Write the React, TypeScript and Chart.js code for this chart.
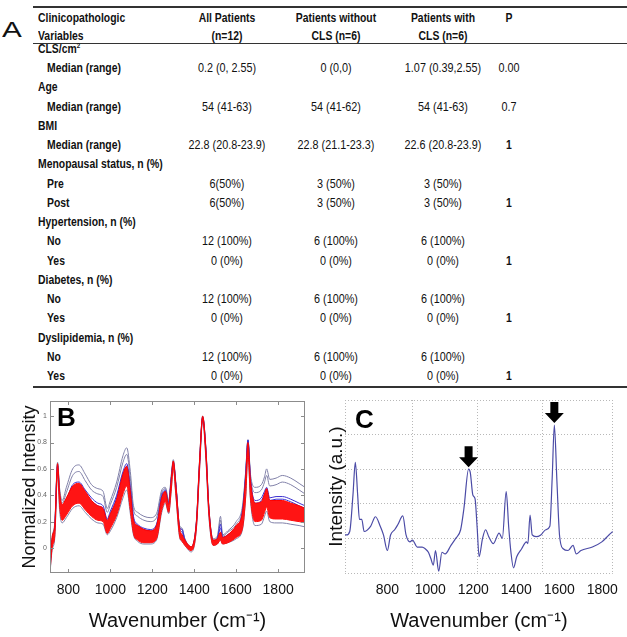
import React, { useEffect, useRef } from "react";
import { Chart, registerables } from "chart.js";

Chart.register(...registerables);

const FONT = "'Liberation Sans', Arial, Helvetica, sans-serif";

// ---------------- Table (panel A) ----------------
const headerLine1 = ["Clinicopathologic", "All Patients", "Patients without", "Patients with", "P"];
const headerLine2 = ["Variables", "(n=12)", "CLS (n=6)", "CLS (n=6)", ""];

const rowLabels = [
  "CLS/cm", "Median (range)", "Age", "Median (range)", "BMI", "Median (range)",
  "Menopausal status, n (%)", "Pre", "Post", "Hypertension, n (%)", "No", "Yes",
  "Diabetes, n (%)", "No", "Yes", "Dyslipidemia, n (%)", "No", "Yes",
];
const rowIndented = [0, 1, 0, 1, 0, 1, 0, 1, 1, 0, 1, 1, 0, 1, 1, 0, 1, 1];
const colAllPatients = [
  "", "0.2 (0, 2.55)", "", "54 (41-63)", "", "22.8 (20.8-23.9)", "", "6(50%)", "6(50%)",
  "", "12 (100%)", "0 (0%)", "", "12 (100%)", "0 (0%)", "", "12 (100%)", "0 (0%)",
];
const colWithoutCLS = [
  "", "0 (0,0)", "", "54 (41-62)", "", "22.8 (21.1-23.3)", "", "3 (50%)", "3 (50%)",
  "", "6 (100%)", "0 (0%)", "", "6 (100%)", "0 (0%)", "", "6 (100%)", "0 (0%)",
];
const colWithCLS = [
  "", "1.07 (0.39,2.55)", "", "54 (41-63)", "", "22.6 (20.8-23.9)", "", "3 (50%)", "3 (50%)",
  "", "6 (100%)", "0 (0%)", "", "6 (100%)", "0 (0%)", "", "6 (100%)", "0 (0%)",
];
const colP = ["", "0.00", "", "0.7", "", "1", "", "", "1", "", "", "1", "", "", "1", "", "", "1"];

// ---------------- Panel B: normalized spectra ----------------
const wnB = [
  712, 722, 735, 748, 758, 770, 790, 820, 850, 880, 910, 940, 965, 985, 1000, 1030, 1060, 1078, 1095,
  1110, 1130, 1160, 1190, 1220, 1245, 1262, 1278, 1290, 1300, 1312, 1330, 1342, 1355, 1385, 1410, 1425,
  1440, 1455, 1470, 1490, 1510, 1525, 1535, 1560, 1600, 1630, 1645, 1656, 1668, 1690, 1720, 1735, 1745,
  1760, 1790, 1820, 1860, 1900, 1928,
];
const redLowB = [
  -0.18, 0.0, 0.1, 0.58, 0.32, 0.21, 0.25, 0.32, 0.34, 0.29, 0.24, 0.21, 0.2, 0.11, 0.15, 0.25, 0.41, 0.47, 0.29,
  0.11, 0.06, 0.04, 0.04, 0.07, 0.29, 0.35, 0.27, 0.44, 0.61, 0.41, 0.09, 0.05, 0.02, -0.02, 0.15, 0.6,
  0.98, 0.7, 0.25, 0.02, 0.03, 0.06, 0.03, 0.04, 0.08, 0.15, 0.39, 0.71, 0.38, 0.2, 0.21, 0.27, 0.31,
  0.23, 0.22, 0.22, 0.21, 0.2, 0.19,
];
const redHighB = [
  -0.12, 0.08, 0.18, 0.64, 0.42, 0.33, 0.38, 0.47, 0.49, 0.43, 0.36, 0.32, 0.3, 0.21, 0.26, 0.37, 0.56, 0.62, 0.43,
  0.21, 0.17, 0.14, 0.13, 0.17, 0.38, 0.43, 0.33, 0.52, 0.66, 0.48, 0.15, 0.1, 0.06, 0.01, 0.2, 0.66,
  1.0, 0.76, 0.3, 0.06, 0.07, 0.12, 0.08, 0.1, 0.17, 0.27, 0.53, 0.8, 0.51, 0.34, 0.35, 0.41, 0.45,
  0.36, 0.36, 0.36, 0.34, 0.32, 0.3,
];
const blueLowB = [
  -0.13, 0.06, 0.17, 0.63, 0.4, 0.31, 0.37, 0.46, 0.48, 0.42, 0.36, 0.32, 0.3, 0.21, 0.26, 0.38, 0.56, 0.62, 0.44,
  0.22, 0.17, 0.14, 0.13, 0.17, 0.39, 0.43, 0.33, 0.52, 0.65, 0.48, 0.15, 0.12, 0.06, 0.0, 0.19, 0.64,
  0.99, 0.75, 0.29, 0.05, 0.07, 0.15, 0.08, 0.1, 0.16, 0.27, 0.54, 0.81, 0.51, 0.34, 0.36, 0.41, 0.45,
  0.36, 0.37, 0.37, 0.35, 0.32, 0.3,
];
const blueHighB = [
  -0.15, 0.04, 0.15, 0.62, 0.38, 0.3, 0.36, 0.48, 0.5, 0.44, 0.38, 0.34, 0.32, 0.22, 0.28, 0.4, 0.58, 0.64, 0.46,
  0.24, 0.18, 0.15, 0.14, 0.18, 0.4, 0.44, 0.34, 0.52, 0.65, 0.48, 0.15, 0.14, 0.06, 0.0, 0.18, 0.63,
  0.99, 0.74, 0.28, 0.05, 0.07, 0.18, 0.08, 0.1, 0.16, 0.28, 0.55, 0.82, 0.52, 0.36, 0.38, 0.43, 0.46,
  0.38, 0.39, 0.39, 0.37, 0.34, 0.32,
];
const grayMidB = [
  -0.13, 0.06, 0.18, 0.64, 0.43, 0.34, 0.42, 0.55, 0.58, 0.51, 0.44, 0.41, 0.39, 0.27, 0.33, 0.46, 0.65, 0.71, 0.53,
  0.29, 0.24, 0.21, 0.2, 0.23, 0.42, 0.45, 0.35, 0.54, 0.66, 0.49, 0.16, 0.14, 0.07, 0.01, 0.19, 0.65,
  1.0, 0.76, 0.29, 0.06, 0.08, 0.21, 0.09, 0.12, 0.18, 0.3, 0.57, 0.82, 0.54, 0.42, 0.44, 0.5, 0.55,
  0.47, 0.48, 0.5, 0.48, 0.44, 0.41,
];
const grayTopB = [
  -0.12, 0.08, 0.2, 0.65, 0.45, 0.36, 0.46, 0.6, 0.63, 0.56, 0.48, 0.45, 0.43, 0.3, 0.36, 0.5, 0.7, 0.76, 0.58,
  0.32, 0.27, 0.24, 0.23, 0.26, 0.44, 0.46, 0.36, 0.55, 0.67, 0.5, 0.17, 0.15, 0.07, 0.01, 0.2, 0.66,
  1.0, 0.77, 0.3, 0.07, 0.09, 0.24, 0.1, 0.13, 0.2, 0.32, 0.58, 0.82, 0.56, 0.46, 0.48, 0.54, 0.6,
  0.52, 0.53, 0.55, 0.53, 0.49, 0.46,
];
const grayLowB = [
  -0.19, -0.02, 0.08, 0.56, 0.28, 0.19, 0.23, 0.3, 0.32, 0.27, 0.22, 0.19, 0.18, 0.1, 0.13, 0.23, 0.38, 0.44, 0.26,
  0.1, 0.05, 0.03, 0.03, 0.06, 0.27, 0.34, 0.26, 0.43, 0.6, 0.4, 0.08, 0.05, 0.02, -0.03, 0.14, 0.58,
  0.97, 0.68, 0.23, 0.02, 0.03, 0.06, 0.03, 0.04, 0.07, 0.14, 0.38, 0.7, 0.36, 0.17, 0.18, 0.24, 0.28,
  0.2, 0.19, 0.19, 0.18, 0.17, 0.16,
];
const xTicksB = [800, 1000, 1200, 1400, 1600, 1800];
const yTicksB = [0, 0.2, 0.4, 0.6, 0.8, 1];

// ---------------- Panel C: single spectrum ----------------
const wnC = [
  603, 610, 625, 640, 651, 662, 670, 681, 692, 722, 745, 767, 782, 800, 815, 834, 849, 872, 887, 905, 917,
  939, 962, 976, 991, 1002, 1014, 1024, 1039, 1054, 1069, 1096, 1118, 1141, 1156, 1178, 1186, 1198, 1208,
  1218, 1227, 1243, 1257, 1272, 1293, 1320, 1335, 1353, 1365, 1375, 1387, 1402, 1425, 1447, 1454, 1464,
  1474, 1492, 1514, 1537, 1556, 1567, 1577, 1589, 1601, 1618, 1641, 1664, 1679, 1701, 1754, 1798, 1831, 1849,
];
const intensityC = [
  22, 22, 24, 45, 64, 45, 31, 31, 24, 27, 32.5, 27, 22, 13, 22, 25, 28, 33, 22, 18, 19,
  15, 15, 14, 12, 8.5, 4.6, 13, 1, 12, 11, 16, 20, 25, 37, 60, 58, 45, 43,
  26, 9.4, 20, 25, 21, 17, 23, 20, 47, 26, 12, 3, 9.4, 14, 18, 17, 33.5,
  22, 21, 22, 25, 27, 55, 85.5, 53, 22, 14, 13, 16, 11, 13, 15, 18, 22, 24,
];
const arrowWn = [1178, 1577];
const arrowVal = [60, 85.5];
const xTicksC = [800, 1000, 1200, 1400, 1600, 1800];
const xGridC = [603, 917, 1220, 1522, 1849];
const yGridC = [0, 20, 40, 60, 80, 100];

// ---------------- helpers ----------------
const ROW_START = 49;
const ROW_STEP = 19.24;
const COL_LABEL = 38;
const COL_INDENT = 47;
const COL_CENTERS = [227, 336, 443, 509];

function Txt(props: { x: number; y: number; align: "left" | "center"; bold?: boolean; children: any }) {
  const h = 18;
  const base: any = {
    position: "absolute",
    top: props.y - h / 2,
    height: h,
    lineHeight: h + "px",
    whiteSpace: "nowrap",
    fontSize: 13.5,
    fontWeight: props.bold ? 700 : 400,
    color: "#111",
    transform: props.bold ? "scaleX(0.77)" : "scaleX(0.8)",
  };
  if (props.align === "left") {
    return <div style={{ ...base, left: props.x, transformOrigin: "left center" }}>{props.children}</div>;
  }
  return (
    <div style={{ ...base, left: props.x - 90, width: 180, textAlign: "center", transformOrigin: "center center" }}>
      {props.children}
    </div>
  );
}

const pts = (xs: number[], ys: number[]) => xs.map((x, i) => ({ x, y: ys[i] }));

const frameTicksB = {
  id: "frameTicksB",
  afterDatasetsDraw(chart: any) {
    const { ctx, chartArea, scales } = chart;
    const { left, right, top, bottom } = chartArea;
    const x = scales.x;
    const y = scales.y;
    ctx.save();
    ctx.strokeStyle = "#8c8c8c";
    ctx.lineWidth = 1;
    ctx.strokeRect(left + 0.5, top + 0.5, right - left - 1, bottom - top - 1);
    ctx.beginPath();
    x.ticks.forEach((t: any) => {
      const px = Math.round(x.getPixelForValue(t.value)) + 0.5;
      ctx.moveTo(px, bottom);
      ctx.lineTo(px, bottom - 4);
      ctx.moveTo(px, top);
      ctx.lineTo(px, top + 4);
    });
    y.ticks.forEach((t: any) => {
      const py = Math.round(y.getPixelForValue(t.value)) + 0.5;
      ctx.moveTo(left, py);
      ctx.lineTo(left + 4, py);
      ctx.moveTo(right, py);
      ctx.lineTo(right - 4, py);
    });
    ctx.stroke();
    ctx.restore();
  },
};

const arrowsC = {
  id: "arrowsC",
  afterDatasetsDraw(chart: any) {
    const { ctx, scales } = chart;
    const x = scales.x;
    const y = scales.y;
    ctx.save();
    ctx.fillStyle = "#000";
    arrowWn.forEach((wn, i) => {
      const cx = x.getPixelForValue(wn);
      const tip = y.getPixelForValue(arrowVal[i]) - 2;
      ctx.beginPath();
      ctx.moveTo(cx - 4, tip - 21);
      ctx.lineTo(cx + 4, tip - 21);
      ctx.lineTo(cx + 4, tip - 10);
      ctx.lineTo(cx + 9.5, tip - 10);
      ctx.lineTo(cx, tip);
      ctx.lineTo(cx - 9.5, tip - 10);
      ctx.lineTo(cx - 4, tip - 10);
      ctx.closePath();
      ctx.fill();
    });
    ctx.restore();
  },
};

function SpectraB() {
  const ref = useRef<HTMLCanvasElement>(null);
  useEffect(() => {
    const line = (label: string, ys: number[], color: string, order: number, extra: any = {}) => ({
      label,
      data: pts(wnB, ys),
      borderColor: color,
      borderWidth: 1,
      pointRadius: 0,
      cubicInterpolationMode: "monotone",
      fill: false,
      order,
      ...extra,
    });
    const chart = new Chart(ref.current!, {
      type: "line",
      data: {
        datasets: [
          line("Red upper", redHighB, "#ff0000", 1, { fill: "+1", backgroundColor: "#ff1414" }),
          line("Red lower", redLowB, "#ff0000", 1),
          line("Blue lower", blueLowB, "#3a2fd0", 2),
          line("Blue upper", blueHighB, "#3a2fd0", 2),
          line("Gray mid", grayMidB, "#8080a8", 3),
          line("Gray top", grayTopB, "#8080a8", 3),
          line("Gray low", grayLowB, "#8080a8", 3),
        ] as any,
      },
      options: {
        animation: false,
        responsive: false,
        events: [],
        layout: { padding: { top: 11, right: 7, left: 0, bottom: 0 } },
        plugins: { legend: { display: false }, tooltip: { enabled: false } },
        scales: {
          x: {
            type: "linear",
            min: 712,
            max: 1928,
            afterBuildTicks: (s: any) => {
              s.ticks = xTicksB.map((v) => ({ value: v }));
            },
            afterFit: (s: any) => {
              s.height = 64;
            },
            grid: { display: false, drawTicks: false },
            border: { display: false },
            ticks: { autoSkip: false, maxRotation: 0, padding: 9, color: "#111", font: { size: 14, family: FONT }, callback: (v: any) => String(v) },
            title: { display: true, text: "Wavenumber (cm\u207B\u00B9)", color: "#111", font: { size: 20, family: FONT }, padding: { top: 0, bottom: 4 } },
          },
          y: {
            type: "linear",
            min: -0.19,
            max: 1.115,
            afterBuildTicks: (s: any) => {
              s.ticks = yTicksB.map((v) => ({ value: v }));
            },
            afterFit: (s: any) => {
              s.width = 50;
            },
            grid: { display: false, drawTicks: false },
            border: { display: false },
            ticks: { autoSkip: false, padding: 3, color: "#666", font: { size: 7, family: FONT }, callback: (v: any) => String(v) },
            title: { display: true, text: "Normalized Intensity", color: "#111", font: { size: 18, family: FONT }, padding: { top: 19, bottom: 0 } },
          },
        },
      } as any,
      plugins: [frameTicksB],
    });
    return () => chart.destroy();
  }, []);
  return <canvas ref={ref} width={312} height={247} style={{ position: "absolute", left: 0, top: 390 }} />;
}

function SpectrumC() {
  const ref = useRef<HTMLCanvasElement>(null);
  useEffect(() => {
    const gridColor = "#b8b8b8";
    const chart = new Chart(ref.current!, {
      type: "line",
      data: {
        datasets: [
          {
            label: "Spectrum",
            data: pts(wnC, intensityC),
            borderColor: "#4b4ba6",
            borderWidth: 1.2,
            pointRadius: 0,
            cubicInterpolationMode: "monotone",
            fill: false,
          },
        ] as any,
      },
      options: {
        animation: false,
        responsive: false,
        events: [],
        layout: { padding: { top: 10, right: 4, left: 0, bottom: 0 } },
        plugins: { legend: { display: false }, tooltip: { enabled: false } },
        scales: {
          x: {
            type: "linear",
            min: 603,
            max: 1849,
            afterBuildTicks: (s: any) => {
              s.ticks = xTicksC.map((v) => ({ value: v }));
            },
            afterFit: (s: any) => {
              s.height = 64;
            },
            grid: { display: false, drawTicks: false },
            border: { display: false },
            ticks: { autoSkip: false, maxRotation: 0, padding: 9, color: "#111", font: { size: 14, family: FONT }, callback: (v: any) => String(v) },
            title: { display: true, text: "Wavenumber (cm\u207B\u00B9)", color: "#111", font: { size: 20, family: FONT }, padding: { top: 0, bottom: 4 } },
          },
          xg: {
            type: "linear",
            position: "bottom",
            min: 603,
            max: 1849,
            afterBuildTicks: (s: any) => {
              s.ticks = xGridC.map((v) => ({ value: v }));
            },
            afterFit: (s: any) => {
              s.height = 0;
            },
            grid: { color: gridColor, lineWidth: 1, drawTicks: false },
            border: { display: false, dash: [1, 2] },
            ticks: { display: false },
          },
          y: {
            type: "linear",
            min: 0,
            max: 100,
            afterBuildTicks: (s: any) => {
              s.ticks = yGridC.map((v) => ({ value: v }));
            },
            afterFit: (s: any) => {
              s.width = 33;
            },
            grid: { color: gridColor, lineWidth: 1, drawTicks: false },
            border: { display: false, dash: [1, 2] },
            ticks: { display: false },
            title: { display: true, text: "Intensity (a.u.)", color: "#111", font: { size: 19, family: FONT }, padding: { top: 13, bottom: 0 } },
          },
        },
      } as any,
      plugins: [arrowsC],
    });
    return () => chart.destroy();
  }, []);
  return <canvas ref={ref} width={315} height={247} style={{ position: "absolute", left: 312, top: 390 }} />;
}

export default function App() {
  const hr = (top: number, thick: number) => (
    <div style={{ position: "absolute", left: 33, width: 594, top, height: thick, background: "#333" }} />
  );
  return (
    <div
      style={{
        position: "absolute",
        left: 0,
        top: 0,
        width: 627,
        height: 637,
        background: "#fff",
        overflow: "hidden",
        fontFamily: FONT,
      }}
    >
      {/* Panel A: table */}
      <div
        style={{
          position: "absolute",
          left: 2,
          top: 19,
          fontSize: 22,
          lineHeight: "22px",
          color: "#111",
          transform: "scaleX(1.35)",
          transformOrigin: "left center",
        }}
      >
        A
      </div>
      {hr(6, 1.5)}
      {hr(42.5, 1.5)}
      {hr(386, 2)}
      <Txt x={COL_LABEL} y={17.5} align="left" bold>{headerLine1[0]}</Txt>
      <Txt x={COL_LABEL} y={36} align="left" bold>{headerLine2[0]}</Txt>
      {COL_CENTERS.map((cx, i) => (
        <React.Fragment key={"h" + i}>
          <Txt x={cx} y={17.5} align="center" bold>{headerLine1[i + 1]}</Txt>
          {headerLine2[i + 1] ? <Txt x={cx} y={36} align="center" bold>{headerLine2[i + 1]}</Txt> : null}
        </React.Fragment>
      ))}
      {rowLabels.map((label, i) => {
        const y = ROW_START + i * ROW_STEP;
        const vals = [colAllPatients[i], colWithoutCLS[i], colWithCLS[i], colP[i]];
        return (
          <React.Fragment key={"r" + i}>
            <Txt x={rowIndented[i] ? COL_INDENT : COL_LABEL} y={y} align="left" bold>
              {label}
              {i === 0 ? <span style={{ fontSize: 8, position: "relative", top: -5 }}>2</span> : null}
            </Txt>
            {vals.map((v, j) =>
              v ? (
                <Txt key={j} x={COL_CENTERS[j]} y={y} align="center" bold={j === 3 && v === "1"}>
                  {v}
                </Txt>
              ) : null
            )}
          </React.Fragment>
        );
      })}

      {/* Panel B */}
      <SpectraB />
      <div style={{ position: "absolute", left: 57, top: 404, fontSize: 26, fontWeight: 700, lineHeight: "26px", color: "#000" }}>B</div>

      {/* Panel C */}
      <SpectrumC />
      <div style={{ position: "absolute", left: 355, top: 406, fontSize: 26, fontWeight: 700, lineHeight: "26px", color: "#000" }}>C</div>
    </div>
  );
}
